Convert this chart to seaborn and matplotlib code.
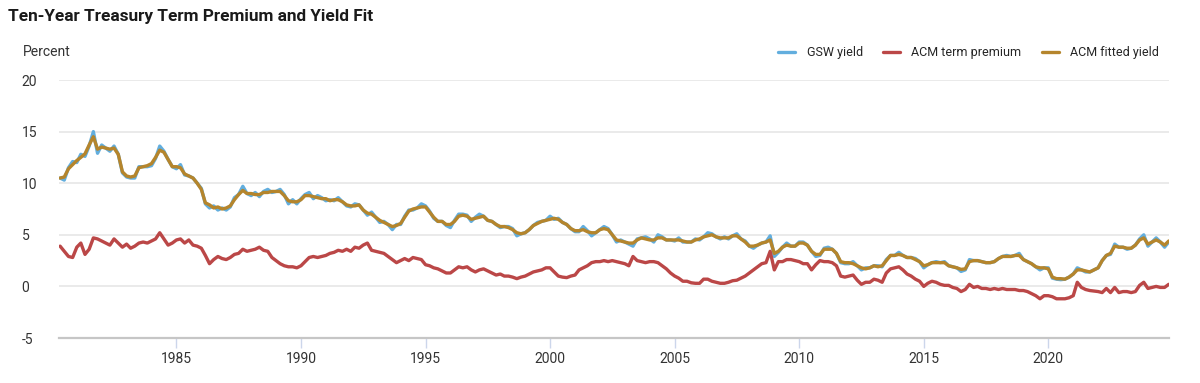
import pandas as pd
import numpy as np
import matplotlib.pyplot as plt
import matplotlib.dates as mdates
import seaborn as sns

#=========================
# 1: PODACI (procitano sa slike, svaka 2 meseca, maj 1980 - nov 2024)
#=========================
gsw_yield = [
    10.5, 10.3, 11.5, 12.1,                # 1980
    12.0, 12.8, 12.6, 13.6, 15.0, 12.9,    # 1981
    13.7, 13.4, 13.1, 13.6, 12.8, 11.0,    # 1982
    10.6, 10.5, 10.5, 11.6, 11.6, 11.6,    # 1983
    11.7, 12.4, 13.6, 13.1, 12.3, 11.6,    # 1984
    11.4, 11.8, 10.8, 10.7, 10.5, 10.0,    # 1985
    9.5, 8.0, 7.6, 7.8, 7.4, 7.6,          # 1986
    7.4, 7.7, 8.6, 8.9, 9.7, 9.0,          # 1987
    8.8, 9.1, 8.7, 9.2, 9.4, 9.1,          # 1988
    9.2, 9.4, 8.9, 8.0, 8.4, 8.0,          # 1989
    8.5, 8.9, 9.1, 8.5, 8.8, 8.6,          # 1990
    8.3, 8.4, 8.3, 8.6, 8.2, 7.8,          # 1991
    7.7, 8.0, 7.9, 7.4, 6.9, 7.2,          # 1992
    6.7, 6.2, 6.3, 6.0, 5.5, 6.0,          # 1993
    6.0, 6.8, 7.4, 7.4, 7.6, 8.0,          # 1994
    7.8, 7.3, 6.6, 6.3, 6.3, 5.9,          # 1995
    5.7, 6.4, 7.0, 7.0, 6.9, 6.3,          # 1996
    6.7, 7.0, 6.8, 6.4, 6.3, 6.0,          # 1997
    5.7, 5.8, 5.8, 5.6, 4.9, 5.1,          # 1998
    5.2, 5.5, 5.9, 6.2, 6.3, 6.4,          # 1999
    6.8, 6.5, 6.6, 6.2, 6.0, 5.6,          # 2000
    5.3, 5.3, 5.8, 5.4, 4.9, 5.2,          # 2001
    5.5, 5.8, 5.6, 5.0, 4.3, 4.5,          # 2002
    4.3, 4.1, 3.9, 4.6, 4.7, 4.8,          # 2003
    4.6, 4.3, 5.0, 4.8, 4.5, 4.5,          # 2004
    4.4, 4.7, 4.3, 4.3, 4.3, 4.6,          # 2005
    4.5, 4.8, 5.2, 5.1, 4.8, 4.6,          # 2006
    4.8, 4.6, 4.9, 5.1, 4.6, 4.4,          # 2007
    3.9, 3.7, 4.0, 4.2, 4.3, 4.9,          # 2008
    2.9, 3.3, 3.8, 4.2, 3.9, 3.9,          # 2009
    4.3, 4.3, 4.0, 3.4, 2.9, 3.0,          # 2010
    3.7, 3.8, 3.6, 3.2, 2.3, 2.2,          # 2011
    2.2, 2.4, 2.0, 1.6, 1.8, 1.8,          # 2012
    2.0, 2.0, 1.9, 2.6, 3.0, 3.0,          # 2013
    3.3, 3.0, 2.8, 2.8, 2.7, 2.4,          # 2014
    1.8, 2.1, 2.3, 2.4, 2.3, 2.4,          # 2015
    2.0, 1.9, 1.8, 1.45, 1.6, 2.6,         # 2016
    2.5, 2.5, 2.4, 2.3, 2.3, 2.4,          # 2017
    2.7, 2.9, 3.0, 2.9, 3.0, 3.2,          # 2018
    2.6, 2.4, 2.2, 1.9, 1.6, 1.8,          # 2019
    1.8, 0.8, 0.7, 0.65, 0.7, 0.9,         # 2020
    1.2, 1.8, 1.6, 1.4, 1.4, 1.6,          # 2021
    1.8, 2.5, 3.0, 3.1, 4.1, 3.8,          # 2022
    3.8, 3.6, 3.7, 4.0, 4.6, 5.0,          # 2023
    3.9, 4.3, 4.7, 4.3, 3.8, 4.3,          # 2024
]

acm_term_premium = [
    3.9, 3.4, 2.9, 2.8,                    # 1980
    3.8, 4.2, 3.1, 3.6, 4.7, 4.6,          # 1981
    4.4, 4.2, 4.0, 4.6, 4.2, 3.8,          # 1982
    4.1, 3.7, 3.9, 4.2, 4.3, 4.2,          # 1983
    4.4, 4.6, 5.2, 4.6, 4.0, 4.2,          # 1984
    4.5, 4.6, 4.2, 4.5, 4.0, 3.9,          # 1985
    3.7, 3.0, 2.2, 2.6, 2.9, 2.7,          # 1986
    2.6, 2.8, 3.1, 3.2, 3.6, 3.4,          # 1987
    3.5, 3.6, 3.8, 3.5, 3.4, 2.8,          # 1988
    2.5, 2.2, 2.0, 1.9, 1.9, 1.8,          # 1989
    2.0, 2.4, 2.8, 2.9, 2.8, 2.9,          # 1990
    3.0, 3.2, 3.3, 3.5, 3.4, 3.6,          # 1991
    3.4, 3.8, 3.7, 4.0, 4.2, 3.5,          # 1992
    3.4, 3.3, 3.2, 2.9, 2.6, 2.3,          # 1993
    2.5, 2.7, 2.5, 2.8, 2.7, 2.6,          # 1994
    2.1, 2.0, 1.8, 1.7, 1.5, 1.3,          # 1995
    1.3, 1.6, 1.9, 1.8, 1.9, 1.6,          # 1996
    1.4, 1.6, 1.7, 1.5, 1.3, 1.1,          # 1997
    1.2, 1.0, 1.0, 0.9, 0.75, 0.9,         # 1998
    1.0, 1.2, 1.4, 1.5, 1.6, 1.8,          # 1999
    1.8, 1.4, 1.0, 0.9, 0.85, 1.0,         # 2000
    1.1, 1.6, 1.8, 2.0, 2.3, 2.4,          # 2001
    2.4, 2.5, 2.4, 2.5, 2.4, 2.3,          # 2002
    2.2, 2.0, 2.9, 2.5, 2.4, 2.3,          # 2003
    2.4, 2.4, 2.3, 2.0, 1.7, 1.3,          # 2004
    1.0, 0.8, 0.5, 0.5, 0.35, 0.3,         # 2005
    0.3, 0.7, 0.7, 0.5, 0.4, 0.3,          # 2006
    0.3, 0.4, 0.55, 0.6, 0.8, 1.0,         # 2007
    1.3, 1.6, 1.9, 2.2, 2.3, 3.4,          # 2008
    1.6, 2.4, 2.4, 2.6, 2.6, 2.5,          # 2009
    2.4, 2.2, 2.2, 1.6, 2.1, 2.5,          # 2010
    2.4, 2.4, 2.3, 2.0, 1.0, 0.9,          # 2011
    1.0, 1.1, 0.6, 0.2, 0.4, 0.4,          # 2012
    0.7, 0.6, 0.4, 1.3, 1.7, 1.8,          # 2013
    1.9, 1.6, 1.2, 1.0, 0.7, 0.5,          # 2014
    0.0, 0.3, 0.5, 0.4, 0.2, 0.1,          # 2015
    0.1, -0.1, -0.2, -0.5, -0.3, 0.2,      # 2016
    -0.1, 0.0, -0.2, -0.2, -0.3, -0.2,     # 2017
    -0.3, -0.2, -0.3, -0.3, -0.3, -0.4,    # 2018
    -0.4, -0.5, -0.7, -0.9, -1.2, -0.9,    # 2019
    -0.9, -1.0, -1.2, -1.2, -1.2, -1.1,    # 2020
    -0.9, 0.4, -0.1, -0.3, -0.4, -0.45,    # 2021
    -0.5, -0.6, -0.2, -0.6, -0.1, -0.6,    # 2022
    -0.5, -0.5, -0.6, -0.5, 0.1, 0.4,      # 2023
    -0.2, -0.1, 0.0, -0.1, -0.1, 0.2,      # 2024
]

# fitovani prinos je malo glatkiji od GSW, na vrhovima i dnima se vidi plava linija
acm_fitted_yield = [
    10.5, 10.6, 11.4, 11.8,                # 1980
    12.2, 12.5, 12.85, 13.7, 14.5, 13.3,   # 1981
    13.5, 13.4, 13.3, 13.4, 12.8, 11.1,    # 1982
    10.7, 10.6, 10.7, 11.5, 11.6, 11.7,    # 1983
    11.9, 12.5, 13.2, 13.0, 12.3, 11.6,    # 1984
    11.6, 11.5, 10.9, 10.7, 10.5, 10.0,    # 1985
    9.4, 8.1, 7.9, 7.6, 7.7, 7.5,          # 1986
    7.6, 7.8, 8.4, 8.9, 9.3, 9.0,          # 1987
    9.0, 8.9, 8.9, 9.1, 9.1, 9.2,          # 1988
    9.2, 9.2, 8.8, 8.3, 8.2, 8.2,          # 1989
    8.4, 8.8, 8.8, 8.7, 8.6, 8.5,          # 1990
    8.5, 8.3, 8.4, 8.4, 8.2, 7.9,          # 1991
    7.8, 7.8, 7.9, 7.4, 7.1, 7.0,          # 1992
    6.7, 6.4, 6.2, 6.0, 5.8, 5.9,          # 1993
    6.1, 6.7, 7.3, 7.5, 7.6, 7.7,          # 1994
    7.7, 7.2, 6.7, 6.3, 6.3, 6.0,          # 1995
    6.0, 6.3, 6.8, 6.9, 6.8, 6.5,          # 1996
    6.6, 6.7, 6.8, 6.4, 6.3, 6.0,          # 1997
    5.8, 5.8, 5.7, 5.5, 5.2, 5.1,          # 1998
    5.2, 5.5, 5.9, 6.1, 6.3, 6.4,          # 1999
    6.5, 6.6, 6.5, 6.2, 6.0, 5.6,          # 2000
    5.4, 5.4, 5.5, 5.3, 5.2, 5.2,          # 2001
    5.5, 5.6, 5.5, 5.0, 4.5, 4.4,          # 2002
    4.3, 4.2, 4.2, 4.5, 4.7, 4.6,          # 2003
    4.5, 4.5, 4.7, 4.7, 4.5, 4.5,          # 2004
    4.5, 4.5, 4.4, 4.3, 4.3, 4.5,          # 2005
    4.6, 4.8, 4.9, 5.0, 4.8, 4.7,          # 2006
    4.7, 4.7, 4.9, 4.9, 4.6, 4.3,          # 2007
    3.9, 3.9, 4.0, 4.2, 4.3, 4.5,          # 2008
    3.2, 3.4, 3.8, 4.0, 3.9, 3.9,          # 2009
    4.2, 4.2, 4.0, 3.4, 3.1, 3.1,          # 2010
    3.6, 3.6, 3.6, 3.2, 2.4, 2.3,          # 2011
    2.3, 2.2, 2.0, 1.8, 1.7, 1.8,          # 2012
    2.0, 1.9, 2.0, 2.5, 3.0, 3.0,          # 2013
    3.1, 3.0, 2.8, 2.8, 2.6, 2.4,          # 2014
    2.0, 2.1, 2.3, 2.3, 2.3, 2.3,          # 2015
    2.0, 1.9, 1.8, 1.65, 1.7, 2.4,         # 2016
    2.5, 2.5, 2.4, 2.3, 2.3, 2.4,          # 2017
    2.7, 2.9, 2.9, 2.9, 3.0, 3.0,          # 2018
    2.6, 2.4, 2.2, 1.9, 1.8, 1.8,          # 2019
    1.7, 0.9, 0.75, 0.75, 0.7, 0.9,        # 2020
    1.2, 1.6, 1.6, 1.5, 1.4, 1.6,          # 2021
    1.8, 2.5, 3.0, 3.2, 3.9, 3.8,          # 2022
    3.8, 3.7, 3.7, 4.0, 4.5, 4.7,          # 2023
    4.1, 4.3, 4.5, 4.3, 4.0, 4.4,          # 2024
]

serije = ['GSW yield', 'ACM term premium', 'ACM fitted yield']
boje = ['#62aede', '#bb4747', '#b5852c']
godine = [1985, 1990, 1995, 2000, 2005, 2010, 2015, 2020]
y_podeoci = [-5, 0, 5, 10, 15, 20]

datumi = pd.date_range('1980-05-01', '2024-11-01', freq='2MS')

df = pd.DataFrame({
    'datum': datumi,
    serije[0]: gsw_yield,
    serije[1]: acm_term_premium,
    serije[2]: acm_fitted_yield,
})
df_long = df.melt(id_vars='datum', var_name='serija', value_name='vrednost')

#=========================
# 2: GRAFIK
#=========================
sns.set_theme(style='white')
plt.rcParams['font.family'] = ['Roboto', 'DejaVu Sans']

fig = plt.figure(figsize=(12, 3.83), dpi=100)
ax = fig.add_axes([59 / 1200, 1 - 338 / 383, (1169 - 59) / 1200, (338 - 80) / 383])

sns.lineplot(
    data=df_long,
    x='datum',
    y='vrednost',
    hue='serija',
    hue_order=serije,
    palette=boje,
    linewidth=2.4,
    ax=ax
)

ax.set_ylim(-5, 20)
ax.set_yticks(y_podeoci)
ax.set_yticklabels([str(v) for v in y_podeoci], ha='left')
ax.tick_params(axis='y', length=0, pad=27, labelsize=10, labelcolor='#333333')

ax.set_xlim(pd.Timestamp('1980-04-15'), pd.Timestamp('2024-11-05'))
ax.set_xticks([pd.Timestamp(f'{g}-01-01') for g in godine])
ax.xaxis.set_major_formatter(mdates.DateFormatter('%Y'))
ax.tick_params(axis='x', length=7, width=1, color='#ccd6eb', pad=3,
               labelsize=10, labelcolor='#333333', bottom=True)

ax.grid(axis='y', color='#e6e6e6', linewidth=1.2)
ax.set_axisbelow(True)
for s in ['top', 'left', 'right']:
    ax.spines[s].set_visible(False)
ax.spines['bottom'].set_color('#c6c6c6')
ax.spines['bottom'].set_linewidth(1.6)
ax.set_xlabel('')
ax.set_ylabel('')

handles, labels = ax.get_legend_handles_labels()
ax.get_legend().remove()
fig.legend(handles, labels, loc='center right', bbox_to_anchor=(0.966, 0.862),
           ncol=3, frameon=False, fontsize=9, handlelength=1.4,
           handletextpad=0.9, columnspacing=1.6, borderaxespad=0, borderpad=0)

fig.text(8 / 1200, 1 - 17 / 383, 'Ten-Year Treasury Term Premium and Yield Fit',
         fontsize=12.4, fontweight='bold', color='#1a1a1a', va='center', ha='left')
fig.text(23 / 1200, 1 - 52 / 383, 'Percent', fontsize=10, color='#333333',
         va='center', ha='left')

plt.savefig('out.png', dpi=100)
